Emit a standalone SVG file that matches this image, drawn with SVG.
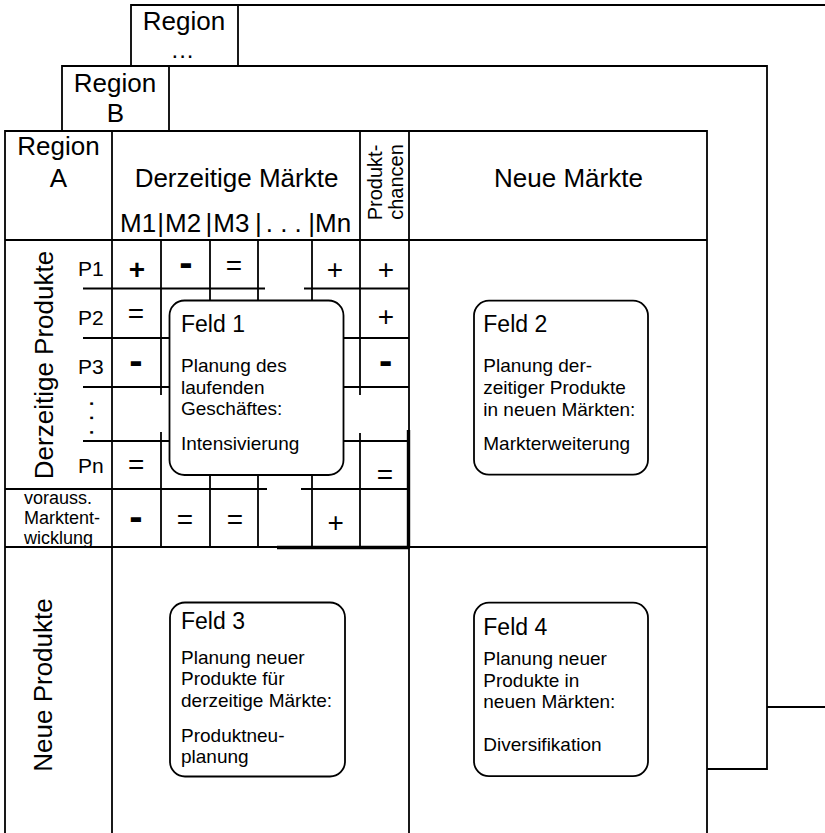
<svg xmlns="http://www.w3.org/2000/svg" width="825" height="833" viewBox="0 0 825 833">
<style>
  .ln { stroke: #000; stroke-width: 1.8; fill: none; }
  .thick { stroke: #000; stroke-width: 3.4; fill: none; }
  .box { stroke: #000; stroke-width: 1.8; fill: #fff; }
  text { font-family: "Liberation Sans", Arial, Helvetica, sans-serif; fill: #000; }
  .big { font-size: 26px; }
  .mid { font-size: 20px; }
  .plab { font-size: 21px; }
  .sm { font-size: 19px; }
  .xs { font-size: 18px; }
  .ttl { font-size: 23px; }
  .sym { font-size: 28px; text-anchor: middle; }
  .dash { font-size: 40px; font-weight: bold; text-anchor: middle; }
  .c { text-anchor: middle; }
</style>
<rect x="0" y="0" width="825" height="833" fill="#fff"/>

<g id="frame-region-etc">
  <polyline class="ln" points="131,66 131,5 825,5"/>
  <line class="ln" x1="238" y1="5" x2="238" y2="66"/>
  <line class="ln" x1="767" y1="707" x2="825" y2="707"/>
  <text class="big c" x="184" y="30">Region</text>
  <text class="c" x="183" y="58" font-size="24" letter-spacing="1" font-variant-ligatures="none">...</text>
</g>

<g id="frame-region-b">
  <polyline class="ln" points="62,131 62,66 767,66 767,769 707,769"/>
  <line class="ln" x1="169" y1="66" x2="169" y2="131"/>
  <text class="big c" x="115" y="92">Region</text>
  <text class="big c" x="115.5" y="122">B</text>
</g>

<g id="frame-region-a">
  <polyline class="ln" points="5,833 5,131 707,131 707,833"/>
  <text class="big c" x="58.5" y="155">Region</text>
  <text class="big c" x="58.5" y="187">A</text>
</g>

<g id="grid">
  <line class="ln" x1="5" y1="240" x2="707" y2="240"/>
  <line class="ln" x1="112" y1="131" x2="112" y2="833"/>
  <line class="ln" x1="409" y1="131" x2="409" y2="833"/>
  <line class="ln" x1="360" y1="131" x2="360" y2="395"/>
  <line class="ln" x1="360" y1="433" x2="360" y2="547"/>
  <line class="ln" x1="161" y1="240" x2="161" y2="395"/>
  <line class="ln" x1="161" y1="432" x2="161" y2="547"/>
  <line class="ln" x1="210" y1="240" x2="210" y2="547"/>
  <line class="ln" x1="258" y1="240" x2="258" y2="547"/>
  <line class="ln" x1="312" y1="240" x2="312" y2="547"/>
  <line class="ln" x1="83" y1="288.5" x2="265" y2="288.5"/>
  <line class="ln" x1="304" y1="288.5" x2="409" y2="288.5"/>
  <line class="ln" x1="83" y1="338" x2="409" y2="338"/>
  <line class="ln" x1="83" y1="387" x2="409" y2="387"/>
  <line class="ln" x1="83" y1="441" x2="409" y2="441"/>
  <line class="ln" x1="5" y1="489" x2="267" y2="489"/>
  <line class="ln" x1="301" y1="489" x2="409" y2="489"/>
  <line class="ln" x1="5" y1="547" x2="707" y2="547"/>
  <line class="thick" x1="277" y1="547.5" x2="409.5" y2="547.5"/>
  <line class="thick" x1="408.5" y1="430" x2="408.5" y2="548"/>
</g>

<g id="header">
  <text class="big c" x="236.5" y="187">Derzeitige Märkte</text>
  <text class="big" text-anchor="start" y="232"><tspan x="120">M1</tspan><tspan x="157.3">|</tspan><tspan x="165">M2</tspan><tspan x="205.6">|</tspan><tspan x="213.3">M3</tspan><tspan x="254.9">|</tspan><tspan x="265.7">. . .</tspan><tspan x="308.3">|</tspan><tspan x="315">Mn</tspan></text>
  <text class="mid c" transform="translate(381.5,182.5) rotate(-90)">Produkt-</text>
  <text class="mid c" transform="translate(403,182) rotate(-90)">chancen</text>
  <text class="big c" x="568.5" y="187">Neue Märkte</text>
</g>

<g id="rows">
  <text class="big c" transform="translate(53,365) rotate(-90)">Derzeitige Produkte</text>
  <text class="plab" x="78" y="275.5">P1</text>
  <text class="plab" x="78" y="325">P2</text>
  <text class="plab" x="78" y="373.5">P3</text>
  <text class="big c" transform="translate(93,418) rotate(-90)">. . .</text>
  <text class="plab" x="78" y="473">Pn</text>
  <text class="xs" x="24" y="503.5">vorauss.</text>
  <text class="xs" x="24" y="523.5">Marktent-</text>
  <text class="xs" x="24" y="543.5">wicklung</text>
  <text class="big c" transform="translate(52,685) rotate(-90)">Neue Produkte</text>
</g>

<g id="values">
  <text class="sym" x="137" y="279" font-weight="bold">+</text>
  <text class="dash" x="186" y="275.5">-</text>
  <text class="sym" x="234" y="274.5">=</text>
  <text class="sym" x="335" y="278.5">+</text>
  <text class="sym" x="386" y="278.5">+</text>
  <text class="sym" x="136" y="322.5">=</text>
  <text class="sym" x="386" y="326">+</text>
  <text class="dash" x="136" y="374">-</text>
  <text class="dash" x="385.7" y="374">-</text>
  <text class="sym" x="136.3" y="473.5">=</text>
  <text class="sym" x="385" y="483.5">=</text>
  <text class="dash" x="136" y="529.5">-</text>
  <text class="sym" x="185" y="529">=</text>
  <text class="sym" x="235" y="529">=</text>
  <text class="sym" x="335.8" y="531.5">+</text>
</g>

<g id="feld1">
  <rect class="box" x="169.5" y="300.5" width="174" height="174.5" rx="15"/>
  <text class="ttl" x="181" y="332">Feld 1</text>
  <text class="sm" x="181" y="372">Planung des</text>
  <text class="sm" x="181" y="393.5">laufenden</text>
  <text class="sm" x="181" y="415">Geschäftes:</text>
  <text class="sm" x="181" y="450">Intensivierung</text>
</g>

<g id="feld2">
  <rect class="box" x="474" y="300.7" width="174" height="174" rx="15"/>
  <text class="ttl" x="483.3" y="332.3">Feld 2</text>
  <text class="sm" x="483.3" y="372">Planung der-</text>
  <text class="sm" x="483.3" y="394">zeitiger Produkte</text>
  <text class="sm" x="483.3" y="415.7">in neuen Märkten:</text>
  <text class="sm" x="483.3" y="450">Markterweiterung</text>
</g>

<g id="feld3">
  <rect class="box" x="170" y="602.5" width="175" height="174" rx="15"/>
  <text class="ttl" x="181" y="629">Feld 3</text>
  <text class="sm" x="181" y="664">Planung neuer</text>
  <text class="sm" x="181" y="685">Produkte für</text>
  <text class="sm" x="181" y="707.3">derzeitige Märkte:</text>
  <text class="sm" x="181" y="742.3">Produktneu-</text>
  <text class="sm" x="181" y="763.3">planung</text>
</g>

<g id="feld4">
  <rect class="box" x="474" y="602.7" width="174" height="173.5" rx="15"/>
  <text class="ttl" x="483.3" y="635">Feld 4</text>
  <text class="sm" x="483.3" y="665">Planung neuer</text>
  <text class="sm" x="483.3" y="686.7">Produkte in</text>
  <text class="sm" x="483.3" y="708.3">neuen Märkten:</text>
  <text class="sm" x="483.3" y="750.7">Diversifikation</text>
</g>
</svg>
